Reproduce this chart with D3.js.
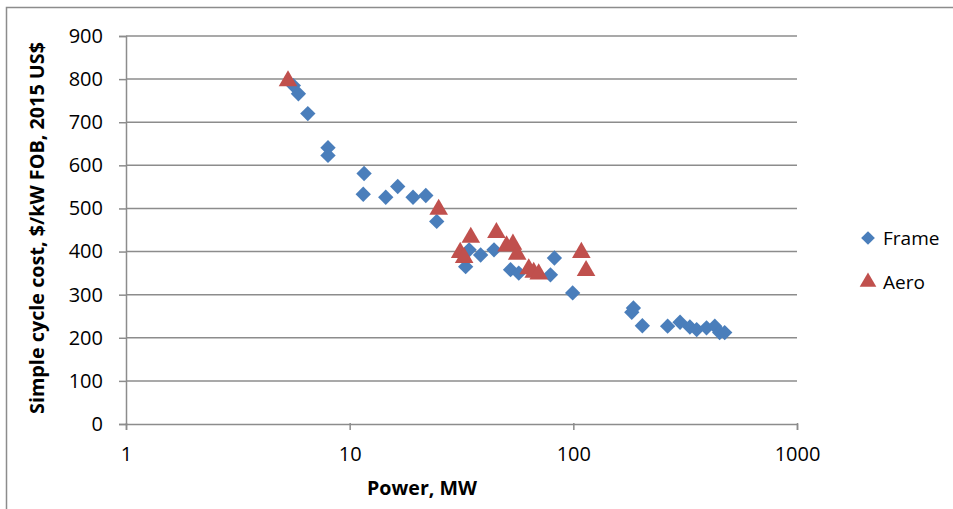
<!DOCTYPE html>
<html>
<head>
<meta charset="utf-8">
<script src="https://cdn.jsdelivr.net/npm/d3@7"></script>
<style>
  body { margin: 0; background: #fff; }
  svg text { font-family: "Open Sans", "DejaVu Sans", sans-serif; fill: #000; }
</style>
</head>
<body>
<div id="chart"></div>
<script>
// power (MW) and cost ($/kW)
const framePower = [5.6, 5.9, 6.5, 8.0, 8.0, 11.6, 11.5, 14.5, 16.4, 19.2, 21.9, 24.5,
    33.0, 34.2, 38.5, 44.2, 52.4, 57.0, 79, 82.3, 99.3,
    182.5, 185.6, 203.5, 264, 300, 332, 356, 394, 429, 451, 475];
const frameCost = [785, 766, 720, 641, 623, 581, 533, 526, 551, 526, 530, 470,
    365, 404, 392, 404, 358, 350, 346, 385, 304,
    259, 269, 228, 227, 236, 225, 219, 223, 227, 212, 212];
const aeroPower = [5.3, 25.0, 34.8, 31.2, 32.5, 45.3, 50.3, 53.7, 56.1, 63.2, 66.5, 70.0, 108.6, 114];
const aeroCost = [798, 500, 435, 400, 388, 446, 415, 419, 396, 362, 354, 350, 400, 358];
const xTicks = [1, 10, 100, 1000];
const yTicks = [0, 100, 200, 300, 400, 500, 600, 700, 800, 900];

const width = 953;
const height = 509;
const margin = {top: 36, right: 156, bottom: 85, left: 126};

const svg = d3.select('#chart').append('svg')
    .attr('width', width)
    .attr('height', height);

// outer chart frame
svg.append('path')
    .attr('d', `M6.5,${height} V7.5 H${width}`)
    .attr('fill', 'none')
    .attr('stroke', '#8c8c8c')
    .attr('stroke-width', 1.5);

const x = d3.scaleLog()
    .domain([1, 1000])
    .range([margin.left, width - margin.right]);

const y = d3.scaleLinear()
    .domain([0, 900])
    .range([height - margin.bottom, margin.top]);

// gridlines
svg.append('g')
  .selectAll('line')
  .data(yTicks.slice(1))
  .join('line')
    .attr('x1', margin.left)
    .attr('x2', width - margin.right)
    .attr('y1', d => y(d))
    .attr('y2', d => y(d))
    .attr('stroke', '#8c8c8c')
    .attr('stroke-width', 1.5);

const yAxis = svg.append('g')
    .attr('transform', `translate(${margin.left},0)`)
    .call(d3.axisLeft(y).tickValues(yTicks).tickSize(7).tickPadding(16));

const xAxis = svg.append('g')
    .attr('transform', `translate(0,${height - margin.bottom})`)
    .call(d3.axisBottom(x).tickValues(xTicks).tickFormat(d3.format('d')).tickSize(6).tickPadding(17));

[yAxis, xAxis].forEach(g => {
    g.select('.domain').attr('stroke', '#8c8c8c').attr('stroke-width', 1.5);
    g.selectAll('.tick line').attr('stroke', '#8c8c8c').attr('stroke-width', 1.5);
    g.selectAll('.tick text').attr('font-size', 20).attr('fill', '#000');
});
xAxis.selectAll('.tick line').attr('y1', -1);

// axis titles
svg.append('text')
    .attr('x', 422)
    .attr('y', 495)
    .attr('text-anchor', 'middle')
    .attr('font-size', 19)
    .attr('font-weight', 'bold')
    .attr('textLength', 110)
    .attr('lengthAdjust', 'spacingAndGlyphs')
    .text('Power, MW');

svg.append('text')
    .attr('transform', `translate(44,228) rotate(-90)`)
    .attr('text-anchor', 'middle')
    .attr('font-size', 19)
    .attr('font-weight', 'bold')
    .attr('textLength', 372)
    .attr('lengthAdjust', 'spacingAndGlyphs')
    .text('Simple cycle cost, $/kW FOB, 2015 US$');

const blue = '#4a7ebb';
const red = '#c0504d';
const diamond = d3.symbol().type(d3.symbolDiamond2).size(150);
const triangle = d3.symbol().type(d3.symbolTriangle).size(150);

svg.append('g')
  .selectAll('path')
  .data(d3.zip(framePower, frameCost))
  .join('path')
    .attr('d', diamond)
    .attr('transform', d => `translate(${x(d[0])},${y(d[1])})`)
    .attr('fill', blue);

svg.append('g')
  .selectAll('path')
  .data(d3.zip(aeroPower, aeroCost))
  .join('path')
    .attr('d', triangle)
    .attr('transform', d => `translate(${x(d[0])},${y(d[1]) + 1})`)
    .attr('fill', red);

// legend
const legend = svg.append('g').attr('transform', 'translate(868,0)');
const items = [{name: 'Frame', sym: diamond, color: blue, y: 238},
               {name: 'Aero', sym: triangle, color: red, y: 282}];
legend.selectAll('path')
  .data(items)
  .join('path')
    .attr('d', d => d.sym.size(120)())
    .attr('transform', d => `translate(0,${d.y})`)
    .attr('fill', d => d.color);
legend.selectAll('text')
  .data(items)
  .join('text')
    .attr('x', 15)
    .attr('y', d => d.y)
    .attr('dy', '0.36em')
    .attr('font-size', 19)
    .text(d => d.name);
</script>
</body>
</html>
